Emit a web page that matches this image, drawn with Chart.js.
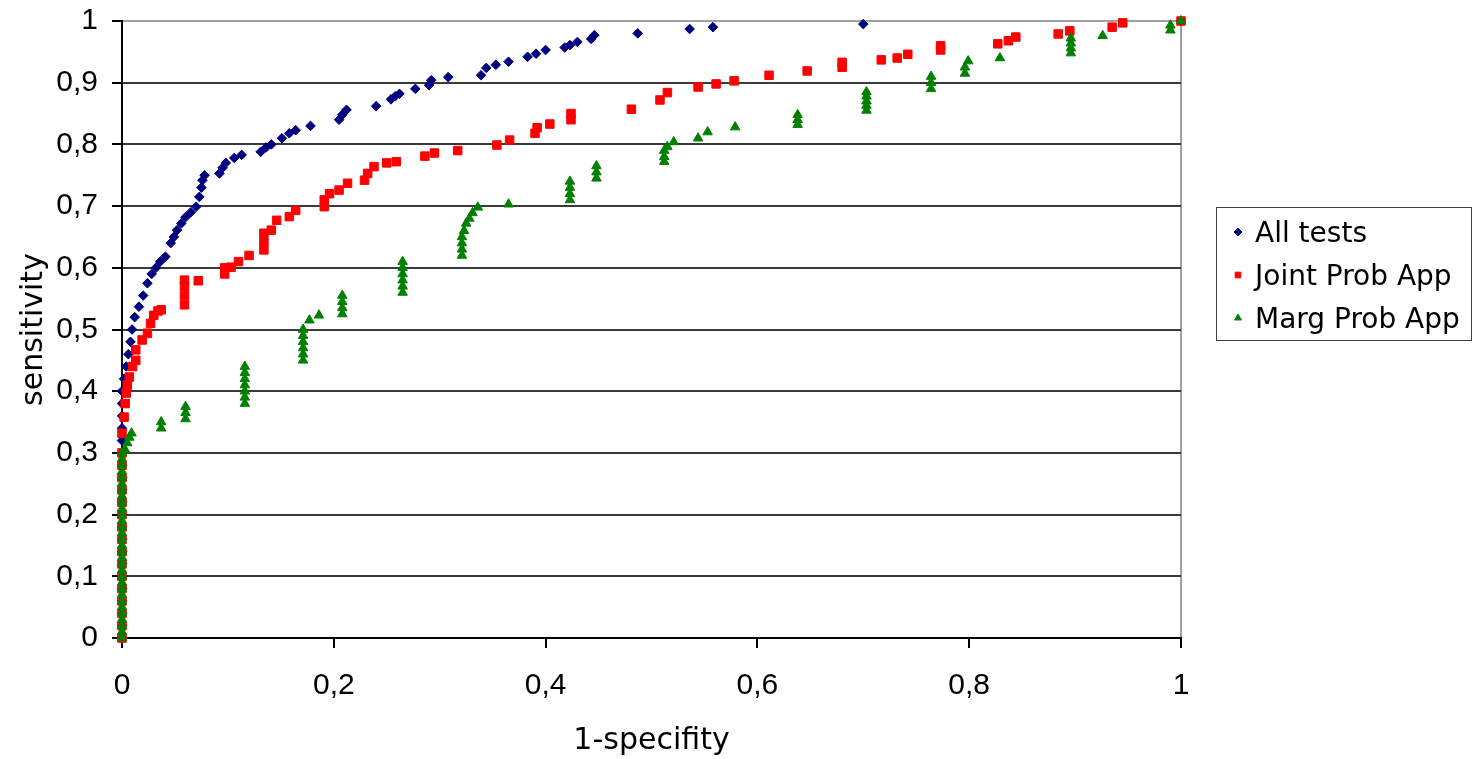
<!DOCTYPE html>
<html>
<head>
<meta charset="utf-8">
<script src="https://cdn.jsdelivr.net/npm/chart.js@4.4.1/dist/chart.umd.min.js"></script>
<style>
    body { margin: 0; background: #fff; }
    #wrap { width: 1473px; height: 759px; }
</style>
</head>
<body>
<div id="wrap"><canvas id="rocChart" width="1473" height="759"></canvas></div>
<script>
// values (x = 1-specifity, y = sensitivity)
const allTestsX = [0, 0, 0, 0, 0, 0, 0, 0, 0, 0, 0, 0, 0, 0, 0, 0, 0, 0, 0, 0, 0,
    0.002, 0.004, 0.006, 0.008, 0.0095, 0.012, 0.016, 0.02, 0.024, 0.028, 0.032, 0.036, 0.041, 0.046, 0.049,
    0.052, 0.056, 0.06, 0.065, 0.07, 0.073, 0.075, 0.076, 0.078, 0.092, 0.095, 0.098, 0.106, 0.113, 0.131,
    0.136, 0.141, 0.151, 0.158, 0.164, 0.178, 0.205, 0.208, 0.212, 0.24, 0.254, 0.258, 0.262, 0.277, 0.29,
    0.292, 0.308, 0.339, 0.344, 0.353, 0.365, 0.383, 0.391, 0.40, 0.418, 0.423, 0.43, 0.443, 0.446, 0.487,
    0.536, 0.558, 0.70, 1];
const allTestsY = [0, 0.02, 0.04, 0.06, 0.08, 0.10, 0.12, 0.14, 0.16, 0.18, 0.20, 0.22, 0.24, 0.26, 0.28, 0.30, 0.32, 0.34, 0.36, 0.38, 0.40,
    0.42, 0.44, 0.46, 0.48, 0.50, 0.52, 0.537, 0.555, 0.575, 0.59, 0.60, 0.61, 0.618, 0.64, 0.65,
    0.661, 0.672, 0.682, 0.69, 0.699, 0.715, 0.73, 0.742, 0.75, 0.753, 0.762, 0.77, 0.778, 0.783, 0.788,
    0.795, 0.80, 0.81, 0.818, 0.823, 0.83, 0.84, 0.848, 0.856, 0.862, 0.873, 0.878, 0.882, 0.89, 0.896,
    0.904, 0.909, 0.912, 0.924, 0.929, 0.934, 0.942, 0.947, 0.953, 0.957, 0.961, 0.966, 0.971, 0.977, 0.98,
    0.987, 0.99, 0.995, 1];

const jointX = [0, 0, 0, 0, 0, 0, 0, 0, 0, 0, 0, 0, 0, 0, 0, 0,
    0, 0.002, 0.003, 0.004, 0.005, 0.007, 0.01, 0.013, 0.013, 0.019, 0.024, 0.027, 0.03, 0.034, 0.037,
    0.059, 0.059, 0.059, 0.059, 0.072, 0.097, 0.097, 0.103, 0.11, 0.12, 0.134, 0.134, 0.134, 0.141, 0.146,
    0.158, 0.164, 0.191, 0.191, 0.196, 0.205, 0.213, 0.229, 0.232, 0.238, 0.25, 0.259, 0.286, 0.295, 0.317,
    0.354, 0.366, 0.39, 0.392, 0.404, 0.424, 0.424, 0.481, 0.508, 0.515, 0.544, 0.561, 0.578, 0.611, 0.647,
    0.68, 0.68, 0.717, 0.732, 0.742, 0.773, 0.773, 0.827, 0.837, 0.844, 0.884, 0.895, 0.935, 0.945, 1];
const jointY = [0, 0.02, 0.04, 0.06, 0.08, 0.10, 0.12, 0.14, 0.16, 0.18, 0.20, 0.22, 0.24, 0.26, 0.28, 0.30,
    0.332, 0.358, 0.38, 0.397, 0.41, 0.423, 0.44, 0.45, 0.467, 0.483, 0.494, 0.51, 0.523, 0.53, 0.532,
    0.54, 0.555, 0.57, 0.58, 0.579, 0.59, 0.60, 0.601, 0.61, 0.62, 0.629, 0.642, 0.656, 0.661, 0.677,
    0.683, 0.693, 0.699, 0.71, 0.72, 0.726, 0.737, 0.742, 0.753, 0.764, 0.77, 0.772, 0.781, 0.786, 0.79,
    0.799, 0.807, 0.818, 0.827, 0.833, 0.84, 0.85, 0.857, 0.872, 0.884, 0.893, 0.898, 0.903, 0.912, 0.919,
    0.925, 0.933, 0.937, 0.94, 0.946, 0.953, 0.96, 0.963, 0.968, 0.974, 0.979, 0.984, 0.99, 0.997, 1];

const margX = [0, 0, 0, 0, 0, 0, 0, 0, 0, 0, 0, 0, 0, 0, 0, 0, 0, 0, 0, 0, 0, 0, 0, 0, 0, 0, 0, 0, 0, 0, 0,
    0.003, 0.005, 0.007, 0.009, 0.037, 0.037, 0.06, 0.06, 0.06,
    0.116, 0.116, 0.116, 0.116, 0.116, 0.116, 0.116, 0.171, 0.171, 0.171, 0.171, 0.171, 0.171, 0.177, 0.186,
    0.208, 0.208, 0.208, 0.208, 0.265, 0.265, 0.265, 0.265, 0.265, 0.265, 0.321, 0.321, 0.321, 0.321, 0.323,
    0.325, 0.328, 0.331, 0.336, 0.365, 0.423, 0.423, 0.423, 0.423, 0.448, 0.448, 0.448, 0.512, 0.512, 0.512,
    0.515, 0.521, 0.544, 0.553, 0.579, 0.638, 0.638, 0.638, 0.703, 0.703, 0.703, 0.703, 0.703, 0.764, 0.764,
    0.764, 0.796, 0.796, 0.799, 0.829, 0.896, 0.896, 0.896, 0.896, 0.926, 0.99, 0.99, 1];
const margY = [0, 0.01, 0.02, 0.03, 0.04, 0.05, 0.06, 0.07, 0.08, 0.09, 0.10, 0.11, 0.12, 0.13, 0.14, 0.15,
    0.16, 0.17, 0.18, 0.19, 0.20, 0.21, 0.22, 0.23, 0.24, 0.25, 0.26, 0.27, 0.28, 0.29, 0.30,
    0.305, 0.316, 0.325, 0.332, 0.34, 0.35, 0.355, 0.365, 0.375,
    0.38, 0.39, 0.40, 0.41, 0.42, 0.43, 0.44, 0.45, 0.46, 0.47, 0.48, 0.49, 0.50, 0.515, 0.523,
    0.525, 0.535, 0.545, 0.555, 0.56, 0.57, 0.58, 0.59, 0.60, 0.61, 0.62, 0.63, 0.64, 0.65, 0.66,
    0.672, 0.68, 0.689, 0.698, 0.703, 0.71, 0.72, 0.73, 0.74, 0.745, 0.755, 0.765, 0.772, 0.78, 0.79,
    0.796, 0.804, 0.81, 0.82, 0.828, 0.832, 0.84, 0.848, 0.855, 0.863, 0.87, 0.878, 0.885, 0.89, 0.90,
    0.91, 0.915, 0.925, 0.935, 0.94, 0.948, 0.956, 0.964, 0.972, 0.976, 0.985, 0.993, 1];

const seriesNames = ['All tests', 'Joint Prob App', 'Marg Prob App'];
const seriesColors = ['#000080', '#ff0000', '#008000'];
const seriesStyles = ['rectRot', 'rect', 'triangle'];
const xTicks = [0, 0.2, 0.4, 0.6, 0.8, 1];

function toPoints(xs, ys) {
    return xs.map((x, i) => ({ x: x, y: ys[i] }));
}

function commaLabel(v) {
    const r = Math.round(v * 10) / 10;
    if (r === 0 || r === 1) return String(r);
    return r.toFixed(1).replace('.', ',');
}

// legend with a frame, like the spreadsheet one
const boxLegend = {
    id: 'boxLegend',
    afterDraw(chart) {
        const ctx = chart.ctx;
        ctx.save();
        ctx.strokeStyle = '#404040';
        ctx.lineWidth = 1;
        ctx.strokeRect(1216.5, 207.5, 255, 133);
        ctx.font = '28px "DejaVu Sans"';
        ctx.textBaseline = 'alphabetic';
        ctx.textAlign = 'left';
        seriesNames.forEach((name, i) => {
            const cy = 232 + i * 43;
            ctx.fillStyle = seriesColors[i];
            ctx.strokeStyle = seriesColors[i];
            Chart.helpers.drawPoint(ctx, { pointStyle: seriesStyles[i], radius: 4, rotation: 0, borderWidth: 1 }, 1238, cy);
            ctx.fillStyle = '#000';
            ctx.fillText(name, 1255, cy + 10);
        });
        ctx.restore();
    }
};

const datasets = [
    { label: seriesNames[0], data: toPoints(allTestsX, allTestsY), pointStyle: 'rectRot', pointRadius: 4.8, order: 2 },
    { label: seriesNames[1], data: toPoints(jointX, jointY), pointStyle: 'rect', pointRadius: 6, order: 1 },
    { label: seriesNames[2], data: toPoints(margX, margY), pointStyle: 'triangle', pointRadius: 5.5, order: 0 }
];
datasets.forEach((d, i) => {
    d.backgroundColor = seriesColors[i];
    d.borderColor = seriesColors[i];
    d.borderWidth = 1;
    d.clip = false;
    d.pointHoverRadius = d.pointRadius;
});

new Chart(document.getElementById('rocChart'), {
    type: 'scatter',
    data: { datasets: datasets },
    options: {
        responsive: false,
        animation: false,
        layout: { padding: { top: 21, right: 292, bottom: 0, left: 0 } },
        plugins: { legend: { display: false }, tooltip: { enabled: false } },
        scales: {
            x: {
                type: 'linear',
                min: 0,
                max: 1,
                afterBuildTicks: s => { s.ticks = xTicks.map(v => ({ value: v })); },
                afterFit: s => { s.height = 121; s.paddingLeft = 0; s.paddingRight = 0; },
                border: { color: '#000', width: 2 },
                grid: {
                    color: c => (c.tick && c.tick.value === 1 ? '#a0a0a0' : 'rgba(0,0,0,0)'),
                    tickColor: '#000',
                    lineWidth: 2,
                    tickLength: 10
                },
                ticks: {
                    color: '#000',
                    padding: 20,
                    font: { family: '"Liberation Sans"', size: 30 },
                    callback: v => commaLabel(v)
                },
                title: {
                    display: true,
                    text: '1-specifity',
                    color: '#000',
                    font: { family: '"DejaVu Sans"', size: 30 },
                    padding: { top: 0, bottom: 0 }
                }
            },
            y: {
                type: 'linear',
                min: 0,
                max: 1,
                ticks: {
                    stepSize: 0.1,
                    color: '#000',
                    padding: 14,
                    font: { family: '"Liberation Sans"', size: 30 },
                    callback: v => commaLabel(v)
                },
                afterFit: s => { s.width = 122; s.paddingTop = 0; s.paddingBottom = 0; },
                border: { color: '#000', width: 2 },
                grid: {
                    color: c => (c.tick && Math.abs(c.tick.value - 1) < 1e-6 ? '#a0a0a0' : '#3a3a3a'),
                    tickColor: '#000',
                    lineWidth: 2,
                    tickLength: 10
                },
                title: {
                    display: true,
                    text: 'sensitivity',
                    color: '#000',
                    font: { family: '"DejaVu Sans"', size: 30 },
                    padding: { top: 16, bottom: 0 }
                }
            }
        }
    },
    plugins: [boxLegend]
});
</script>
</body>
</html>
